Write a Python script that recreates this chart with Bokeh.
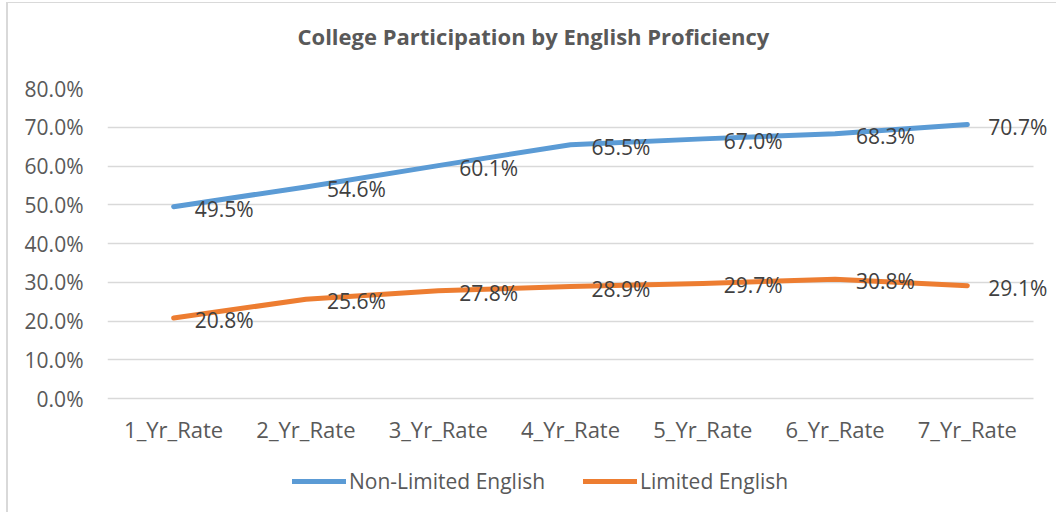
from bokeh.plotting import figure
from bokeh.models import (Range1d, NumeralTickFormatter, Legend, LegendItem,
                          ColumnDataSource, FixedTicker)
from bokeh.core.properties import value
from bokeh.embed import file_html
from bokeh.resources import INLINE

categories = ["1_Yr_Rate", "2_Yr_Rate", "3_Yr_Rate", "4_Yr_Rate", "5_Yr_Rate", "6_Yr_Rate", "7_Yr_Rate"]
non_limited = [0.495, 0.546, 0.601, 0.655, 0.670, 0.683, 0.707]
limited = [0.208, 0.256, 0.278, 0.289, 0.297, 0.308, 0.291]
series_names = ["Non-Limited English", "Limited English"]
title_text = "College Participation by English Proficiency"
y_ticks = [0.0, 0.1, 0.2, 0.3, 0.4, 0.5, 0.6, 0.7, 0.8]

FONT = "Open Sans"
BLUE = "#5B9BD5"
ORANGE = "#ED7D31"

# canvas origin is shifted by the chart-area border (8px left, 3px top)
OX, OY = 8, 3
W, H = 1050, 510
n = len(categories)
cat_px = (1033 - 107) / n
x_end = n - 0.5 + (OX + W - 1033) / cat_px
y_px = 310 / 0.8
y_start = -(OY + H - 398) / y_px

p = figure(width=W, height=H, x_range=Range1d(-0.5, x_end),
           y_range=Range1d(y_start, 0.8), output_backend="svg", toolbar_location=None,
           min_border_left=107 - OX, min_border_right=0, min_border_top=88 - OY, min_border_bottom=0,
           styles={"margin-left": "6px", "margin-top": "2px",
                   "border-left": "2px solid #D9D9D9", "border-top": "1px solid #D9D9D9"})
p.title.text = title_text
p.title.align = "left"
p.title.offset = 190
p.title.text_font = FONT
p.title.text_font_size = "22px"
p.title.text_font_style = "bold"
p.title.text_color = "#595959"
p.title.padding = dict(left=0, right=0, top=0, bottom=33)

p.outline_line_color = None
p.background_fill_color = "white"
p.border_fill_color = "white"

p.xaxis.visible = False
p.xgrid.grid_line_color = None
p.ygrid.grid_line_color = "#D9D9D9"
p.ygrid.grid_line_width = 1.3
p.ygrid.cross_bounds = (-0.5, n - 0.5)
p.yaxis.ticker = FixedTicker(ticks=y_ticks)
p.yaxis.formatter = NumeralTickFormatter(format="0.0%")
p.yaxis.axis_line_color = None
p.yaxis.major_tick_line_color = None
p.yaxis.minor_tick_line_color = None
p.yaxis.major_label_text_font = FONT
p.yaxis.major_label_text_font_size = "21px"
p.yaxis.major_label_text_color = "#595959"
p.yaxis.major_label_standoff = 18

xi = list(range(n))
src = ColumnDataSource(dict(x=xi, cat=categories, zero=[0.0] * n, a=non_limited, b=limited,
                            la=[f"{v*100:.1f}%" for v in non_limited],
                            lb=[f"{v*100:.1f}%" for v in limited]))

r1 = p.line("x", "a", source=src, line_color=BLUE, line_width=5, line_cap="round", line_join="round")
r2 = p.line("x", "b", source=src, line_color=ORANGE, line_width=5, line_cap="round", line_join="round")

# data labels
for col, yc in (("la", "a"), ("lb", "b")):
    p.text("x", yc, text=col, source=src, x_offset=21, y_offset=2,
           text_align="left", text_baseline="middle",
           text_font=value(FONT), text_font_size="21px", text_color="#404040")

# category labels under the 0% line
p.text("x", "zero", text="cat", source=src, y_offset=30,
       text_align="center", text_baseline="middle",
       text_font=value(FONT), text_font_size="22px", text_color="#595959")

legend = Legend(items=[LegendItem(label=series_names[0], renderers=[r1]),
                       LegendItem(label=series_names[1], renderers=[r2])],
                location=(185, 18), orientation="horizontal",
                glyph_width=54, glyph_height=20, label_standoff=3, spacing=38,
                padding=0, margin=0, border_line_color=None, background_fill_alpha=0,
                label_text_font=FONT, label_text_font_size="21px", label_text_color="#595959")
p.add_layout(legend, "center")

open("out.html", "w").write(file_html(p, INLINE))
